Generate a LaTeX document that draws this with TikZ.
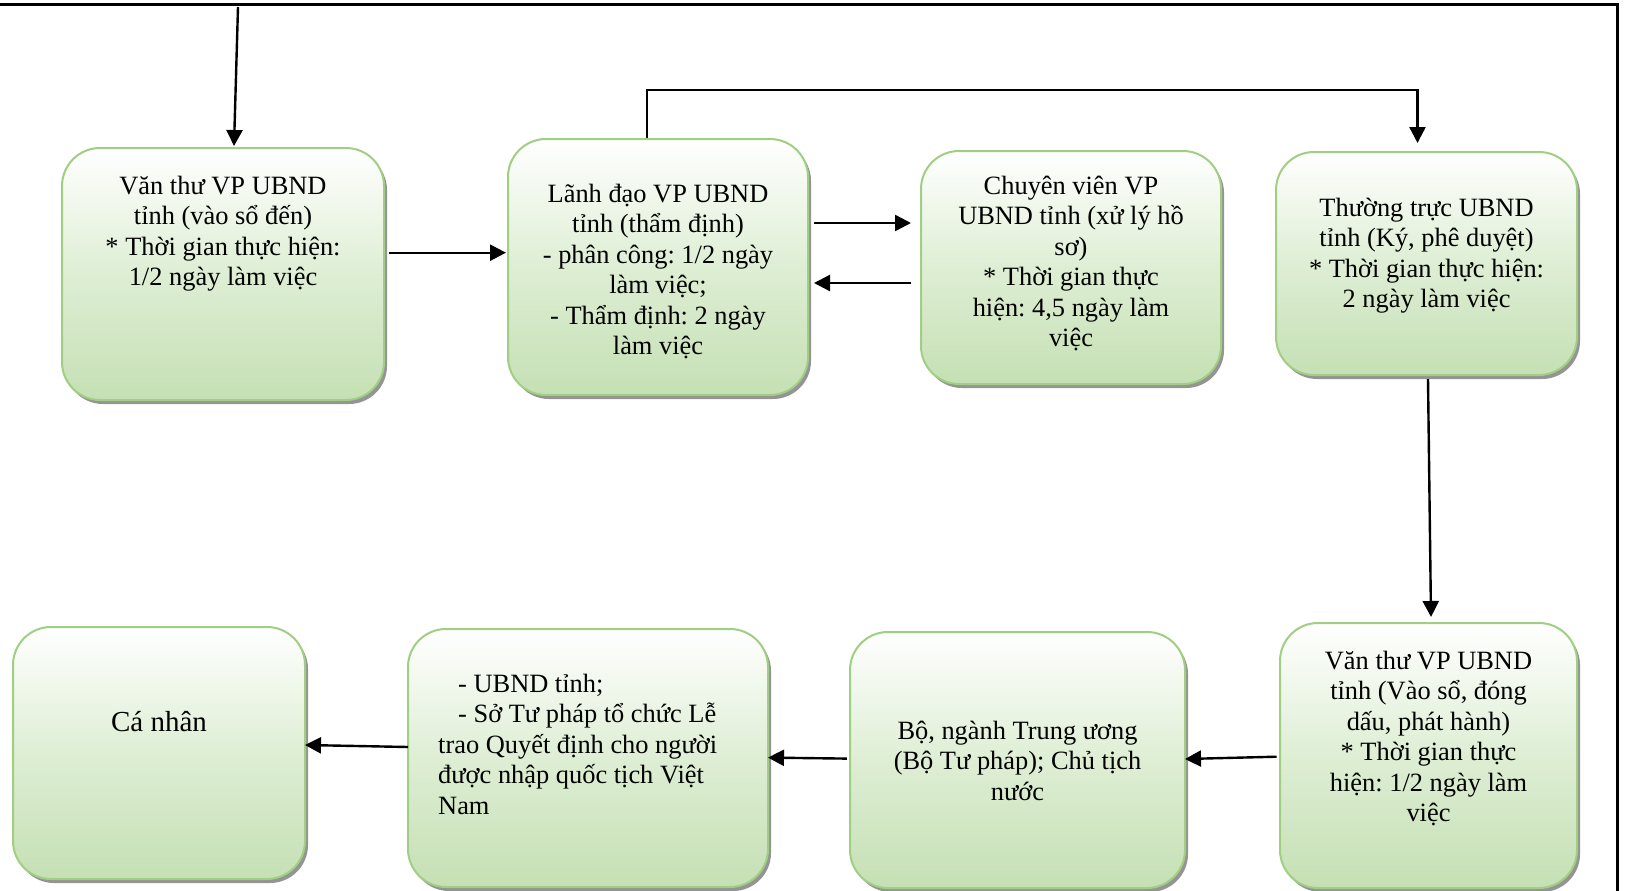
\documentclass[tikz,border=0pt]{standalone}
\usepackage{fontspec}
\setmainfont{Liberation Serif}
\usetikzlibrary{arrows.meta,shadows,calc}
\definecolor{gcol}{RGB}{197,224,180}
\definecolor{mcol}{RGB}{222,238,212}
\definecolor{bcol}{RGB}{160,206,130}
\tikzset{
  box/.style={draw=bcol, line width=2pt, rounded corners=38pt,
    top color=white, bottom color=gcol, middle color=mcol,
    drop shadow={shadow xshift=3pt, shadow yshift=-4pt, fill=black!42, opacity=1},
    inner sep=0pt},
  txt/.style={anchor=north, align=center, inner sep=0pt,
    font=\fontsize{26.4}{30.5}\selectfont\frenchspacing},
  arr/.style={-{Triangle[length=16pt,width=16pt]}, line width=2.4pt, black},
  frame/.style={line width=3pt, black}
}
\begin{document}
\begin{tikzpicture}[x=1pt,y=1pt]
\useasboundingbox (0,0) rectangle (1625,-891);
\draw[frame] (0,-4.5) -- (1617.5,-4.5) -- (1617.5,-891);

% boxes
\node[box, minimum width=322pt, minimum height=252pt] (n1) at (223,-274) {};
\node[box, minimum width=300pt, minimum height=256pt] (n2) at (658,-267) {};
\node[box, minimum width=300pt, minimum height=233pt] (n3) at (1071,-267.5) {};
\node[box, minimum width=301pt, minimum height=223pt] (n4) at (1426.5,-263.5) {};
\node[box, minimum width=292pt, minimum height=252pt] (n5) at (159,-753) {};
\node[box, minimum width=360pt, minimum height=258pt] (n6) at (588,-758) {};
\node[box, minimum width=335pt, minimum height=256pt] (n7) at (1017.5,-760) {};
\node[box, minimum width=297pt, minimum height=265pt] (n8) at (1428.5,-755.5) {};

% texts
\node[txt] (t1) at ($(n1.north)+(0,-25.6)$) {\strut Văn thư VP UBND\\ tỉnh (vào sổ đến)\\ * Thời gian thực hiện:\\ 1/2 ngày làm việc};
\node[txt] (t2) at ($(n2.north)+(0,-42.6)$) {\strut Lãnh đạo VP UBND\\ tỉnh (thẩm định)\\ - phân công: 1/2 ngày\\ làm việc;\\ - Thẩm định: 2 ngày\\ làm việc};
\node[txt] (t3) at ($(n3.north)+(0,-22.6)$) {\strut Chuyên viên VP\\ UBND tỉnh (xử lý hồ\\ sơ)\\ * Thời gian thực\\ hiện: 4,5 ngày làm\\ việc};
\node[txt] (t4) at ($(n4.north)+(0,-43.6)$) {\strut Thường trực UBND\\ tỉnh (Ký, phê duyệt)\\ * Thời gian thực hiện:\\ 2 ngày làm việc};
\node[txt, font=\fontsize{29}{33}\selectfont] (t5) at ($(n5.north)+(0,-82)$) {\strut Cá nhân};
\node[txt, anchor=north west, align=left] (t6) at ($(n6.north west)+(31,-42.6)$) {\strut\hspace{20pt}- UBND tỉnh;\\ \hspace*{20pt}- Sở Tư pháp tổ chức Lễ\\ trao Quyết định cho người\\ được nhập quốc tịch Việt\\ Nam};
\node[txt] (t7) at ($(n7.north)+(0,-86.6)$) {\strut Bộ, ngành Trung ương\\ (Bộ Tư pháp); Chủ tịch\\ nước};
\node[txt] (t8) at ($(n8.north)+(0,-25.6)$) {\strut Văn thư VP UBND\\ tỉnh (Vào sổ, đóng\\ dấu, phát hành)\\ * Thời gian thực\\ hiện: 1/2 ngày làm\\ việc};

% connectors
\coordinate (start) at (238,-7);
\draw[arr] (start) -- ([shift={(11,1)}]n1.north);
\draw[arr] ([shift={(4,21.3)}]n1.east) -- ([shift={(-1,14.3)}]n2.west);
\draw[arr] ([shift={(5,44)}]n2.east) -- ([shift={(-9,44.5)}]n3.west);
\draw[arr] ([shift={(-9,-15.5)}]n3.west) -- ([shift={(5,-16)}]n2.east);
\draw[arr] ([xshift=-11pt]n2.north) -- ++(0,48) -| ([shift={(-9,8)}]n4.north);
\draw[arr] ([shift={(1.5,-3)}]n4.south) -- ([shift={(2.5,5)}]n8.north);
\draw[arr] ([shift={(-2.4,-1.2)}]n8.west) -- ([shift={(-1,1)}]n7.east);
\draw[arr] ([shift={(-2.2,1.4)}]n7.west) -- ([shift={(-1,0.4)}]n6.east);
\draw[arr] ([shift={(1,11)}]n6.west) -- ([shift={(-1,8)}]n5.east);
\end{tikzpicture}
\end{document}
